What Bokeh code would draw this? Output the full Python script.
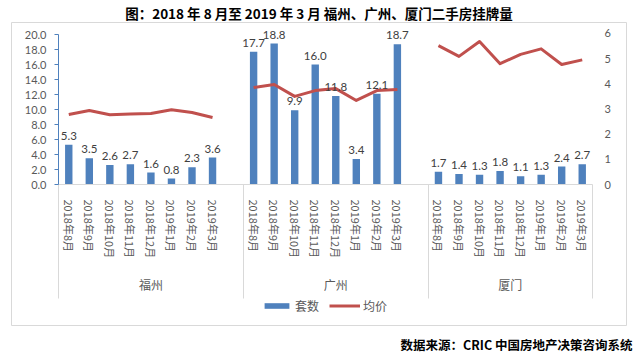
from bokeh.plotting import figure
from bokeh.models import (Range1d, LinearAxis, FixedTicker, NumeralTickFormatter,
                          Legend, LegendItem, Title, ColumnDataSource)
from bokeh.core.properties import value
from bokeh.embed import file_html
from bokeh.resources import INLINE

# ---------------- data ----------------
months = ["2018年8月", "2018年9月", "2018年10月", "2018年11月",
          "2018年12月", "2019年1月", "2019年2月", "2019年3月"]
cities = ["福州", "广州", "厦门"]
count_fz = [5.3, 3.5, 2.6, 2.7, 1.6, 0.8, 2.3, 3.6]
count_gz = [17.7, 18.8, 9.9, 16.0, 11.8, 3.4, 12.1, 18.7]
count_xm = [1.7, 1.4, 1.3, 1.8, 1.1, 1.3, 2.4, 2.7]
price_fz = [2.78, 2.94, 2.77, 2.80, 2.82, 2.97, 2.86, 2.66]
price_gz = [3.85, 3.97, 3.50, 3.73, 3.81, 3.34, 3.73, 3.77]
price_xm = [5.52, 5.09, 5.68, 4.80, 5.17, 5.39, 4.77, 4.95]
left_ticks = [0, 2, 4, 6, 8, 10, 12, 14, 16, 18, 20]
right_ticks = [0, 1, 2, 3, 4, 5, 6]

counts = [count_fz, count_gz, count_xm]
prices = [price_fz, price_gz, price_xm]

# slot layout: 8 months + 1 blank slot between groups
n = len(months)
step = n + 1
total_slots = step * (len(cities) - 1) + n

BLUE = "#4F81BD"
RED = "#C0504D"
GREY_TXT = "#595959"
BORDER = "#D9D9D9"
NUM_FONT = "Lato"
CJK_FONT = "Noto Sans CJK SC"

# ---------------- layout (pixels inside the framed box) ----------------
FRAME_W, FRAME_H = 615, 303
SLOT_PX = 534 / total_slots        # width of one category slot
X0_PX = 47                          # left edge of first slot from frame left
Y0_PX = 162                         # value 0 from frame top
LEFT_PX_PER_UNIT = 7.5
RIGHT_PX_PER_UNIT = 25.17

x_start = -X0_PX / SLOT_PX
x_end = x_start + FRAME_W / SLOT_PX
y_end = Y0_PX / LEFT_PX_PER_UNIT
y_start = y_end - FRAME_H / LEFT_PX_PER_UNIT
r_end = Y0_PX / RIGHT_PX_PER_UNIT
r_start = r_end - FRAME_H / RIGHT_PX_PER_UNIT

xs_all, cnt_all, lbl_all = [], [], []
tick_pos, tick_lbl = [], []
for g in range(len(cities)):
    for i in range(n):
        xc = g * step + i + 0.5
        xs_all.append(xc)
        cnt_all.append(counts[g][i])
        lbl_all.append(f"{counts[g][i]:.1f}")
        tick_pos.append(xc)
        tick_lbl.append(months[i])

bar_src = ColumnDataSource(dict(x=xs_all, count=cnt_all, lbl=lbl_all))

p = figure(frame_width=FRAME_W, frame_height=FRAME_H,
           output_backend="svg", toolbar_location=None,
           x_range=Range1d(x_start, x_end), y_range=Range1d(y_start, y_end),
           x_axis_type=None, y_axis_type=None,
           min_border_left=11, min_border_right=7, min_border_top=14,
           min_border_bottom=26)
p.outline_line_color = BORDER
p.outline_line_width = 1
p.background_fill_color = "white"
p.border_fill_color = "white"
p.extra_y_ranges = {"price": Range1d(r_start, r_end)}

# title
p.title.text = "图：2018 年 8 月至 2019 年 3 月 福州、广州、厦门二手房挂牌量"
p.title.align = "center"
p.title.text_font = CJK_FONT
p.title.text_font_style = "bold"
p.title.text_font_size = "13.5px"
p.title.text_color = "black"
p.title.standoff = 0
p.title.offset = -14

# source line
p.add_layout(Title(text="数据来源：CRIC 中国房地产决策咨询系统", align="right",
                   text_font=CJK_FONT, text_font_style="bold",
                   text_font_size="12.5px", text_color="black",
                   standoff=15, offset=-6), "below")

# left axis (drawn inside the box)
yl = LinearAxis(fixed_location=0, bounds=(0, 20),
                ticker=FixedTicker(ticks=left_ticks),
                formatter=NumeralTickFormatter(format="0.0"),
                axis_line_color=BLUE, major_tick_line_color=BLUE,
                major_tick_out=4, major_tick_in=0, minor_tick_line_color=None,
                major_label_standoff=8,
                major_label_text_font=NUM_FONT, major_label_text_font_size="11px",
                major_label_text_color=GREY_TXT)
p.add_layout(yl, "left")

# right axis
yr = LinearAxis(y_range_name="price", fixed_location=total_slots, bounds=(0, 6),
                ticker=FixedTicker(ticks=right_ticks),
                axis_line_color=None, major_tick_line_color=None,
                major_tick_out=0, major_tick_in=0, minor_tick_line_color=None,
                major_label_standoff=12,
                major_label_text_font=NUM_FONT, major_label_text_font_size="11px",
                major_label_text_color=GREY_TXT)
p.add_layout(yr, "right")

# group separators + baseline
bounds = [g * step for g in range(len(cities))] + [total_slots]
sep = LinearAxis(fixed_location=0, bounds=(0, total_slots),
                 ticker=FixedTicker(ticks=bounds),
                 major_label_overrides={b: "" for b in bounds},
                 axis_line_color=BORDER, major_tick_line_color=BORDER,
                 major_tick_out=114, major_tick_in=0, minor_tick_line_color=None)
p.add_layout(sep, "below")

# month labels
xa = LinearAxis(fixed_location=0,
                ticker=FixedTicker(ticks=tick_pos),
                major_label_overrides={t: l for t, l in zip(tick_pos, tick_lbl)},
                axis_line_color=None, major_tick_line_color=None,
                major_tick_out=0, major_tick_in=0, minor_tick_line_color=None,
                major_label_orientation="vertical", major_label_standoff=15,
                major_label_text_font=CJK_FONT, major_label_text_font_size="11px",
                major_label_text_color=GREY_TXT)
p.add_layout(xa, "below")

# city labels
gpos = [(bounds[g] + bounds[g + 1]) / 2 for g in range(len(cities))]
ga = LinearAxis(fixed_location=0,
                ticker=FixedTicker(ticks=gpos),
                major_label_overrides={t: c for t, c in zip(gpos, cities)},
                axis_line_color=None, major_tick_line_color=None,
                major_tick_out=0, major_tick_in=0, minor_tick_line_color=None,
                major_label_standoff=91,
                major_label_text_font=CJK_FONT, major_label_text_font_size="12px",
                major_label_text_color=GREY_TXT)
p.add_layout(ga, "below")

# bars
bars = p.vbar(x="x", top="count", width=0.36, source=bar_src,
              fill_color=BLUE, line_color=None)

# lines
line_rs = []
for g in range(len(cities)):
    xs = [g * step + i + 0.5 for i in range(n)]
    r = p.line(xs, prices[g], y_range_name="price", line_color=RED,
               line_width=3, line_join="round")
    line_rs.append(r)

# data labels
p.text(x="x", y="count", text="lbl", source=bar_src, text_align="center",
       text_baseline="bottom", y_offset=-5, text_font=value(NUM_FONT),
       text_font_size="11.5px", text_color="#404040")

# legend
legend = Legend(items=[LegendItem(label="套数", renderers=[bars]),
                       LegendItem(label="均价", renderers=[line_rs[0]])],
                location=(250, 11), orientation="horizontal",
                border_line_color=None, background_fill_alpha=0,
                padding=0, margin=0, spacing=10, label_standoff=3,
                glyph_width=31, glyph_height=7, label_height=7,
                label_text_font=CJK_FONT, label_text_font_size="12px",
                label_text_color=GREY_TXT)
p.add_layout(legend)

open("out.html", "w").write(file_html(p, INLINE))
